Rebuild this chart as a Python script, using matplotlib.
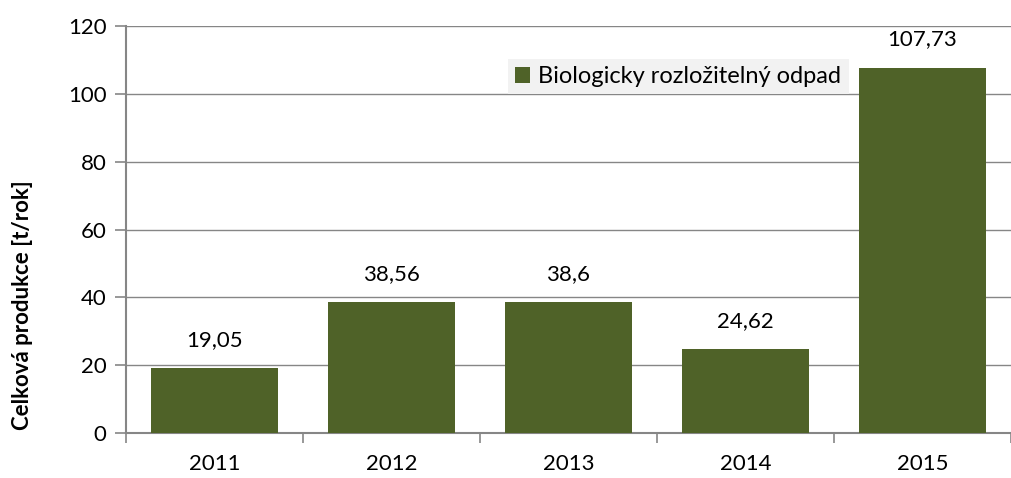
import numpy as np
import matplotlib.pyplot as plt

years = ["2011", "2012", "2013", "2014", "2015"]
values = [19.05, 38.56, 38.6, 24.62, 107.73]
labels = ["19,05", "38,56", "38,6", "24,62", "107,73"]

plt.rcParams['font.family'] = ['Lato', 'DejaVu Sans']

fig = plt.figure(figsize=(10.11, 4.78), dpi=100)
ax = fig.add_axes([126 / 1011, 45 / 478, (1011 - 126) / 1011, 407 / 478])

x = np.arange(len(years))
bars = ax.bar(x, values, width=0.72, color="#4F6228", zorder=3,
              label="Biologicky rozložitelný odpad")
for xi, v, t in zip(x, values, labels):
    ax.annotate(t, (xi, v), xytext=(0, 13), textcoords="offset points",
                ha="center", va="bottom", fontsize=16)

ax.set_xlim(-0.5, 4.5 - 6 / 178.25)
ax.set_ylim(0, 120)
ax.set_yticks(range(0, 121, 20))
ax.yaxis.grid(True, color="#868686", linewidth=1, zorder=0)
ax.set_xticks(x)
ax.set_xticklabels(years, fontsize=16)
ax.set_xticks(np.arange(-0.5, 5, 1), minor=True)
ax.tick_params(axis="x", which="major", length=0, pad=15)
ax.tick_params(axis="x", which="minor", length=7, color="#868686", width=1.2)
ax.tick_params(axis="y", length=8, color="#868686", width=1.2, labelsize=16, pad=6)
for s in ["top", "right"]:
    ax.spines[s].set_visible(False)
for s in ["left", "bottom"]:
    ax.spines[s].set_color("#868686")
    ax.spines[s].set_linewidth(1.5)
ax.set_ylabel("Celková produkce [t/rok]", fontsize=16, fontweight="bold", va="center")
ax.yaxis.set_label_coords(-0.1175, 0.315)

leg = ax.legend(loc="upper left", bbox_to_anchor=(370 / 885, 0.948), frameon=True,
                fontsize=17, handlelength=0.65, handleheight=0.65, handletextpad=0.35,
                borderpad=0.3, fancybox=False)
leg.get_frame().set_facecolor("#F2F2F2")
leg.get_frame().set_edgecolor("none")
leg.get_frame().set_alpha(1)

fig.savefig("out.png", dpi=100)
